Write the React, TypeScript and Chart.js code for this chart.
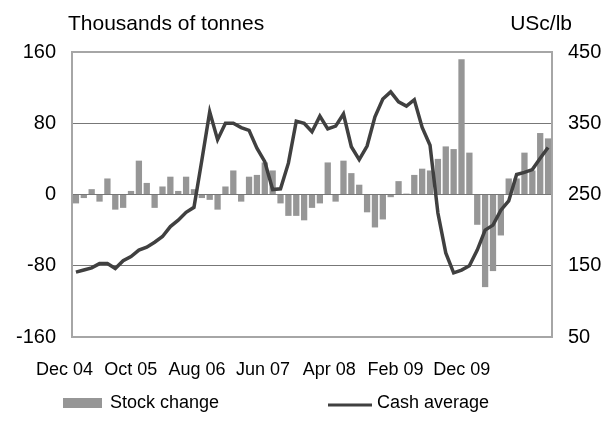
import React, { useEffect, useRef } from 'react';
import { Chart, registerables } from 'chart.js';

Chart.register(...registerables);

const FONT = '"Liberation Sans", Arial, Helvetica, sans-serif';

const MONTH_NAMES = ['Jan', 'Feb', 'Mar', 'Apr', 'May', 'Jun', 'Jul', 'Aug', 'Sep', 'Oct', 'Nov', 'Dec'];

// Monthly categories Dec 04 .. Dec 09 (61 months)
const categories: string[] = [];
for (let i = 0; i < 61; i++) {
  const m = (11 + i) % 12;
  const y = 4 + Math.floor((11 + i) / 12);
  categories.push(`${MONTH_NAMES[m]} ${String(y).padStart(2, '0')}`);
}

// Tick labels shown under the chart
const tickLabels = ['Dec 04', 'Oct 05', 'Aug 06', 'Jun 07', 'Apr 08', 'Feb 09', 'Dec 09'];

// Stock change, thousands of tonnes (left axis)
const stockChange = [
  -10, -4, 6, -8, 18, -17, -15, 4, 38, 13,
  -15, 9, 20, 4, 20, 6, -4, -6, -17, 9,
  27, -8, 20, 22, 36, 27, -10, -24, -24, -29,
  -15, -10, 36, -8, 38, 24, 11, -20, -37, -28,
  -3, 15, 1, 22, 29, 27, 40, 54, 51, 152,
  47, -34, -104, -86, -46, 18, 18, 47, 27, 69,
  63,
];

// Cash average, USc/lb (right axis)
const cashAverage = [
  141, 144, 147, 153, 153, 146, 157, 163, 172, 176,
  183, 191, 205, 214, 225, 232, 298, 366, 327, 350,
  350, 344, 340, 315, 296, 257, 258, 294, 353, 350,
  338, 360, 342, 346, 363, 317, 299, 318, 359, 384,
  394, 380, 374, 383, 344, 319, 224, 168, 140, 144,
  150, 172, 200, 207, 228, 241, 278, 281, 285, 301,
  316,
];

const leftUnit = 'Thousands of tonnes';
const rightUnit = 'USc/lb';
const seriesNames = ['Stock change', 'Cash average'];

const BAR_COLOR = '#969696';
const LINE_COLOR = '#404040';

const extrasPlugin = {
  id: 'unitsAndLegend',
  afterDraw(chart: any) {
    const { ctx, chartArea } = chart;
    const ds = chart.data.datasets;
    ctx.save();
    ctx.fillStyle = '#000';
    ctx.font = `21px ${FONT}`;
    ctx.textBaseline = 'alphabetic';
    ctx.textAlign = 'left';
    ctx.fillText(leftUnit, chartArea.left - 4, 30);
    ctx.textAlign = 'right';
    ctx.fillText(rightUnit, chartArea.right + 20, 30);

    // legend
    ctx.font = `18px ${FONT}`;
    ctx.textAlign = 'left';
    ctx.fillStyle = ds[0].backgroundColor;
    ctx.fillRect(63, 398, 39, 10);
    ctx.fillStyle = '#000';
    ctx.fillText(ds[0].label, 110, 408);
    ctx.strokeStyle = ds[1].borderColor;
    ctx.lineWidth = 3;
    ctx.beginPath();
    ctx.moveTo(328, 405);
    ctx.lineTo(372, 405);
    ctx.stroke();
    ctx.fillText(ds[1].label, 377, 408);
    ctx.restore();
  },
};

export default function App() {
  const ref = useRef<HTMLCanvasElement | null>(null);

  useEffect(() => {
    if (!ref.current) return;
    const chart = new Chart(ref.current, {
      type: 'bar',
      data: {
        labels: categories,
        datasets: [
          {
            type: 'bar',
            label: seriesNames[0],
            data: stockChange,
            backgroundColor: BAR_COLOR,
            borderWidth: 0,
            barPercentage: 0.8,
            categoryPercentage: 1.0,
            xAxisID: 'x',
            yAxisID: 'y',
            order: 2,
          },
          {
            type: 'line',
            label: seriesNames[1],
            data: cashAverage,
            borderColor: LINE_COLOR,
            backgroundColor: LINE_COLOR,
            borderWidth: 3.5,
            pointRadius: 0,
            tension: 0,
            fill: false,
            xAxisID: 'x',
            yAxisID: 'y2',
            order: 1,
          },
        ] as any,
      },
      options: {
        animation: false,
        responsive: true,
        maintainAspectRatio: false,
        layout: { padding: { left: 14, right: 13, top: 52, bottom: 42 } },
        plugins: {
          legend: { display: false },
          tooltip: { enabled: false },
          title: { display: false },
        },
        scales: {
          x: {
            type: 'category',
            display: false,
            offset: true,
            grid: { display: false },
          },
          xl: {
            type: 'linear',
            position: 'bottom',
            bounds: 'data',
            offset: false,
            min: 0.113,
            max: 7.364,
            afterBuildTicks: (s: any) => {
              s.ticks = tickLabels.map((_, i) => ({ value: i }));
            },
            afterFit: (s: any) => {
              s.height = 42;
            },
            grid: { display: false, drawTicks: false, offset: false },
            border: { display: false },
            ticks: {
              autoSkip: false,
              maxRotation: 0,
              minRotation: 0,
              padding: 22,
              color: '#000',
              font: { family: FONT, size: 18 },
              callback: (v: any) => tickLabels[Math.round(Number(v))] ?? '',
            },
          },
          y: {
            position: 'left',
            min: -160,
            max: 160,
            afterFit: (s: any) => {
              s.width = 58;
            },
            ticks: {
              stepSize: 80,
              padding: 16,
              color: '#000',
              font: { family: FONT, size: 20 },
            },
            grid: {
              drawTicks: false,
              color: (c: any) => (Math.abs(c.tick?.value) === 160 ? '#a6a6a6' : '#777777'),
              lineWidth: (c: any) => (Math.abs(c.tick?.value) === 160 ? 2 : 1),
            },
            border: { display: true, color: '#a6a6a6', width: 2 },
          },
          y2: {
            position: 'right',
            min: 50,
            max: 450,
            afterFit: (s: any) => {
              s.width = 50;
            },
            ticks: {
              stepSize: 100,
              padding: 16,
              color: '#000',
              font: { family: FONT, size: 20 },
            },
            grid: { display: false, drawTicks: false },
            border: { display: true, color: '#a6a6a6', width: 2 },
          },
        } as any,
      },
      plugins: [extrasPlugin],
    });
    return () => chart.destroy();
  }, []);

  return (
    <div style={{ position: 'fixed', left: 0, top: 0, width: 615, height: 421, background: '#fff' }}>
      <canvas ref={ref} />
    </div>
  );
}
